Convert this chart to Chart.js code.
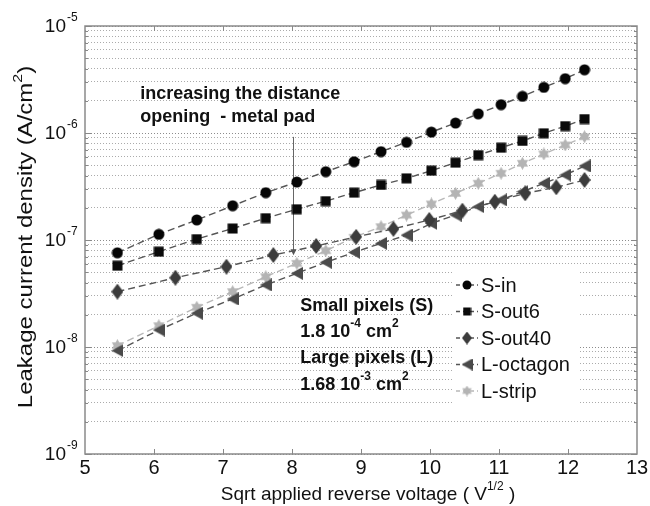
<!DOCTYPE html>
<html>
<head>
<meta charset="utf-8">
<script src="https://cdn.jsdelivr.net/npm/chart.js@4.4.0/dist/chart.umd.min.js"></script>
<style>
  html, body { margin: 0; background: #fff; }
  canvas { display: block; }
</style>
</head>
<body>
<canvas id="chart" width="650" height="506"></canvas>
<script>
// sqrt of reverse bias (V^1/2): 18-step sweep and 13-step sweep
const xFine   = [5.47, 6.07, 6.62, 7.14, 7.62, 8.07, 8.49, 8.90, 9.29, 9.66, 10.02, 10.37, 10.70, 11.03, 11.34, 11.65, 11.96, 12.24];
const xCoarse = [5.47, 6.31, 7.05, 7.73, 8.35, 8.93, 9.47, 9.99, 10.47, 10.94, 11.38, 11.83, 12.24];

// leakage current density, A/cm^2
const sIn      = [7.6e-8, 1.13e-7, 1.54e-7, 2.09e-7, 2.77e-7, 3.48e-7, 4.35e-7, 5.39e-7, 6.69e-7, 8.19e-7, 1.02e-6, 1.24e-6, 1.51e-6, 1.84e-6, 2.20e-6, 2.67e-6, 3.22e-6, 3.90e-6];
const sOut6    = [5.75e-8, 7.78e-8, 1.02e-7, 1.28e-7, 1.60e-7, 1.94e-7, 2.31e-7, 2.77e-7, 3.27e-7, 3.77e-7, 4.45e-7, 5.28e-7, 6.22e-7, 7.29e-7, 8.42e-7, 9.94e-7, 1.16e-6, 1.35e-6];
const sOut40   = [3.29e-8, 4.44e-8, 5.63e-8, 7.24e-8, 8.79e-8, 1.07e-7, 1.27e-7, 1.54e-7, 1.88e-7, 2.28e-7, 2.73e-7, 3.11e-7, 3.64e-7];
const lOctagon = [9.24e-9, 1.44e-8, 2.07e-8, 2.81e-8, 3.80e-8, 4.88e-8, 6.19e-8, 7.67e-8, 9.31e-8, 1.11e-7, 1.43e-7, 1.71e-7, 2.05e-7, 2.37e-7, 2.83e-7, 3.39e-7, 4.05e-7, 4.92e-7];
const lStrip   = [1.03e-8, 1.58e-8, 2.35e-8, 3.29e-8, 4.54e-8, 6.05e-8, 7.94e-8, 1.06e-7, 1.33e-7, 1.71e-7, 2.17e-7, 2.73e-7, 3.39e-7, 4.20e-7, 5.21e-7, 6.37e-7, 7.73e-7, 9.23e-7];

const seriesNames = ['S-in', 'S-out6', 'S-out40', 'L-octagon', 'L-strip'];
const xTicks = [5, 6, 7, 8, 9, 10, 11, 12, 13];
const yDecades = [-9, -8, -7, -6, -5];
const yMinor = [2, 3, 4, 5, 6, 7, 8, 9];

const FONT = '"Liberation Sans", Arial, sans-serif';

// small offscreen canvases used as point markers
function marker(shape, fill, w, h) {
  const c = document.createElement('canvas');
  c.width = w; c.height = h;
  const g = c.getContext('2d');
  g.fillStyle = fill;
  g.beginPath();
  if (shape === 'circle') {
    g.arc(w / 2, h / 2, w / 2 - 0.5, 0, Math.PI * 2);
  } else if (shape === 'square') {
    g.rect(0.5, 0.5, w - 1, h - 1);
  } else if (shape === 'diamond') {
    g.moveTo(w / 2, 0); g.lineTo(w, h / 2); g.lineTo(w / 2, h); g.lineTo(0, h / 2);
  } else if (shape === 'left') {
    g.moveTo(0, h / 2); g.lineTo(w, 0); g.lineTo(w, h);
  } else if (shape === 'star') {
    const cx = w / 2, cy = h / 2, R = w / 2, r = R * 0.58;
    for (let i = 0; i < 12; i++) {
      const a = -Math.PI / 2 + i * Math.PI / 6;
      const rr = i % 2 ? r : R;
      g.lineTo(cx + rr * Math.cos(a), cy + rr * Math.sin(a));
    }
  }
  g.closePath();
  g.fill();
  return c;
}

const markers = [
  marker('circle', '#050505', 12, 12),
  marker('square', '#0a0a0a', 11, 11),
  marker('diamond', '#3c3c3c', 12, 16),
  marker('left', '#4a4a4a', 12, 13),
  marker('star', '#b4b4b4', 13, 13)
];
const smallMarkers = [
  marker('circle', '#050505', 10, 10),
  marker('square', '#0a0a0a', 9, 9),
  marker('diamond', '#3c3c3c', 10, 13),
  marker('left', '#4a4a4a', 11, 12),
  marker('star', '#b4b4b4', 11, 11)
];
const lineColors = ['#555', '#555', '#555', '#555', '#b8b8b8'];

function pts(xs, ys) { return xs.map((v, i) => ({ x: v, y: ys[i] })); }

const seriesData = [
  pts(xFine, sIn), pts(xFine, sOut6), pts(xCoarse, sOut40), pts(xFine, lOctagon), pts(xFine, lStrip)
];

const datasets = seriesNames.map((name, i) => ({
  label: name,
  data: seriesData[i],
  borderColor: lineColors[i],
  borderWidth: 1.4,
  borderDash: [7, 4],
  pointStyle: markers[i],
  pointRadius: 6,
  tension: 0,
  fill: false
}));

// text pieces: [string, isSuperscript]
function richText(ctx, parts, x, y, size, bold, align) {
  const weight = bold ? 'bold ' : '';
  const supSize = Math.round(size * 0.65);
  let total = 0;
  parts.forEach(([s, sup]) => {
    ctx.font = weight + (sup ? supSize : size) + 'px ' + FONT;
    total += ctx.measureText(s).width;
  });
  let cx = align === 'center' ? x - total / 2 : (align === 'right' ? x - total : x);
  ctx.textAlign = 'left';
  ctx.textBaseline = 'middle';
  parts.forEach(([s, sup]) => {
    ctx.font = weight + (sup ? supSize : size) + 'px ' + FONT;
    ctx.fillText(s, cx, sup ? y - size * 0.45 : y);
    cx += ctx.measureText(s).width;
  });
}

function isDecade(v) {
  const l = Math.log10(v);
  return Math.abs(l - Math.round(l)) < 1e-6;
}

const notes = [
  { x: 5.8, y: 2.3e-6, parts: [['increasing the distance', false]] },
  { x: 5.8, y: 1.4e-6, parts: [['opening  - metal pad', false]] },
  { x: 8.12, y: 2.4e-8, parts: [['Small pixels (S)', false]] },
  { x: 8.12, y: 1.39e-8, parts: [['1.8 10', false], ['-4', true], [' cm', false], ['2', true]] },
  { x: 8.12, y: 7.9e-9, parts: [['Large pixels (L)', false]] },
  { x: 8.12, y: 4.4e-9, parts: [['1.68 10', false], ['-3', true], [' cm', false], ['2', true]] }
];
const arrowX = 8.02, arrowTop = 9.2e-7, arrowTip = 7.2e-8;

const extras = {
  id: 'extras',
  beforeDatasetsDraw(chart) {
    const { ctx, scales: { x, y } } = chart;
    // pointer line from the note down to the curves
    const px = Math.round(x.getPixelForValue(arrowX)) + 0.5;
    const top = y.getPixelForValue(arrowTop), tip = y.getPixelForValue(arrowTip);
    ctx.save();
    ctx.strokeStyle = '#666';
    ctx.fillStyle = '#555';
    ctx.lineWidth = 1;
    ctx.beginPath();
    ctx.moveTo(px, top); ctx.lineTo(px, tip - 4);
    ctx.stroke();
    ctx.beginPath();
    ctx.moveTo(px - 3, tip - 6); ctx.lineTo(px + 3, tip - 6); ctx.lineTo(px, tip);
    ctx.closePath();
    ctx.fill();
    ctx.restore();
  },
  afterDraw(chart) {
    const { ctx, chartArea: a, scales: { x, y } } = chart;
    ctx.save();

    // axes box
    ctx.strokeStyle = '#8a8a8a';
    ctx.lineWidth = 1.5;
    ctx.strokeRect(a.left, a.top, a.right - a.left, a.bottom - a.top);

    // inward ticks
    ctx.strokeStyle = '#888';
    ctx.lineWidth = 1;
    ctx.beginPath();
    xTicks.forEach(v => {
      if (v === xTicks[0] || v === xTicks[xTicks.length - 1]) return;
      const px = Math.round(x.getPixelForValue(v)) + 0.5;
      ctx.moveTo(px, a.bottom); ctx.lineTo(px, a.bottom - 5);
      ctx.moveTo(px, a.top); ctx.lineTo(px, a.top + 5);
    });
    y.ticks.forEach(t => {
      const py = Math.round(y.getPixelForValue(t.value)) + 0.5;
      const len = isDecade(t.value) ? 6 : 3;
      ctx.moveTo(a.left, py); ctx.lineTo(a.left + len, py);
      ctx.moveTo(a.right, py); ctx.lineTo(a.right - len, py);
    });
    ctx.stroke();

    // tick labels
    ctx.fillStyle = '#111';
    ctx.font = '20px ' + FONT;
    ctx.textAlign = 'center';
    ctx.textBaseline = 'middle';
    xTicks.forEach(v => ctx.fillText(String(v), x.getPixelForValue(v), a.bottom + 14));
    yDecades.forEach(e => {
      const py = y.getPixelForValue(Math.pow(10, e));
      ctx.font = '19px ' + FONT;
      ctx.textAlign = 'right';
      ctx.fillText('10', 66, py + 1);
      ctx.font = '12px ' + FONT;
      ctx.textAlign = 'left';
      ctx.fillText(String(e), 67, py - 8);
    });

    // axis titles
    richText(ctx, [['Sqrt applied reverse voltage ( V', false], ['1/2', true], [' )', false]],
      368, 495, 19, false, 'center');
    ctx.save();
    ctx.translate(27, 237);
    ctx.rotate(-Math.PI / 2);
    ctx.scale(1, 0.82);
    richText(ctx, [['Leakage current density (A/cm', false], ['2', true], [')', false]], 0, 0, 24, false, 'center');
    ctx.restore();

    // notes
    ctx.fillStyle = '#111';
    notes.forEach(n => richText(ctx, n.parts, x.getPixelForValue(n.x), y.getPixelForValue(n.y), 18, true, 'left'));

    // legend
    const lx = 452, ly = 272, lw = 128, lh = 133;
    ctx.fillStyle = '#fff';
    ctx.fillRect(lx, ly, lw, lh);
    seriesNames.forEach((name, i) => {
      const ry = ly + 13 + i * 26.5;
      ctx.strokeStyle = lineColors[i];
      ctx.lineWidth = 1.3;
      ctx.setLineDash([4, 3]);
      ctx.beginPath();
      ctx.moveTo(lx + 4, ry); ctx.lineTo(lx + 26, ry);
      ctx.stroke();
      ctx.setLineDash([]);
      const m = smallMarkers[i];
      ctx.drawImage(m, lx + 15 - m.width / 2, ry - m.height / 2);
      ctx.fillStyle = '#111';
      ctx.font = '20px ' + FONT;
      ctx.textAlign = 'left';
      ctx.textBaseline = 'middle';
      ctx.fillText(name, lx + 29, ry + 1);
    });

    ctx.restore();
  }
};

new Chart(document.getElementById('chart'), {
  type: 'line',
  data: { datasets },
  options: {
    responsive: false,
    animation: false,
    layout: { padding: { left: 85, right: 13, top: 26, bottom: 52 } },
    plugins: { legend: { display: false }, tooltip: { enabled: false } },
    scales: {
      x: {
        type: 'linear',
        min: 5, max: 13,
        ticks: { display: false },
        grid: { display: false, drawTicks: false },
        border: { display: false }
      },
      y: {
        type: 'logarithmic',
        min: 1e-9, max: 1e-5,
        afterBuildTicks(scale) {
          const vals = [];
          yDecades.forEach((e, i) => {
            vals.push(Math.pow(10, e));
            if (i < yDecades.length - 1) yMinor.forEach(m => vals.push(m * Math.pow(10, e)));
          });
          scale.ticks = vals.map(v => ({ value: v }));
        },
        ticks: { display: false },
        grid: {
          drawTicks: false,
          color: c => isDecade(c.tick.value) ? '#8c8c8c' : '#ababab',
          lineWidth: 1
        },
        border: { display: false, dash: [1, 2] }
      }
    }
  },
  plugins: [extras]
});
</script>
</body>
</html>
